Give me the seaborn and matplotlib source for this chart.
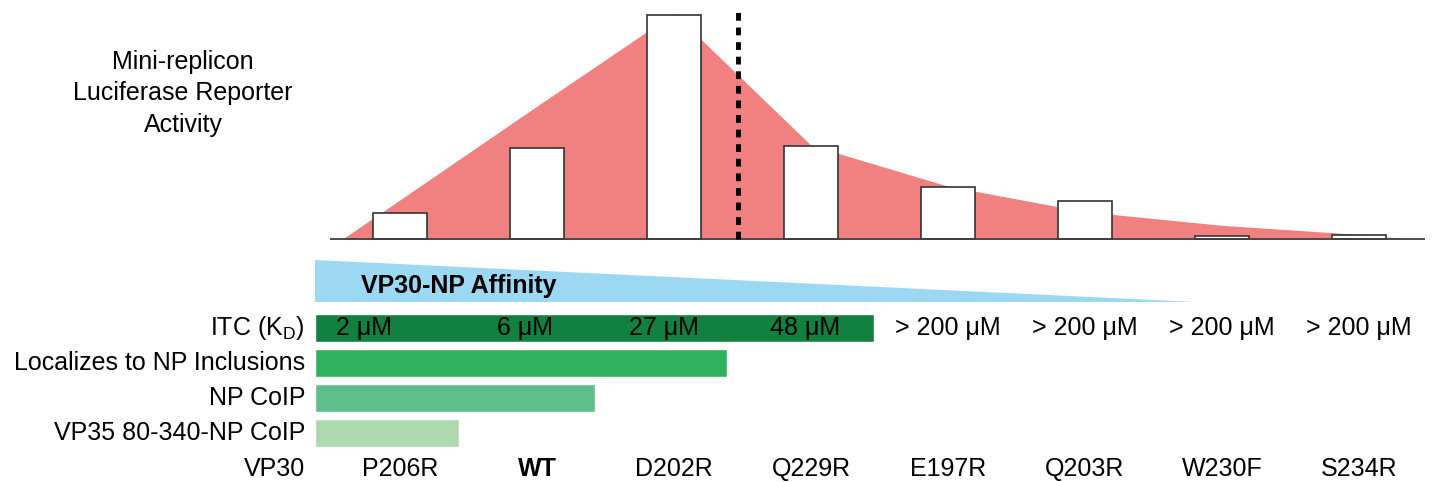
import numpy as np
import pandas as pd
import seaborn as sns
import matplotlib.pyplot as plt
from matplotlib.patches import Polygon

# data
mutants = ["P206R", "WT", "D202R", "Q229R", "E197R", "Q203R", "W230F", "S234R"]
activity = [29, 100, 246, 102, 57, 42, 3, 4]  # % of WT
trend_x = [-0.42, 0, 1, 2, 3, 4, 5, 6, 7, 7.37]
trend_y = [0, 43, 146, 248, 103, 58, 30, 15, 5, 0]
itc_labels = ["2 μM", "6 μM", "27 μM", "48 μM", "> 200 μM", "> 200 μM", "> 200 μM", "> 200 μM"]
itc_dx = [-0.26, -0.09, -0.07, -0.04, 0, 0, 0, 0]
assays = ["ITC (K$_\\mathregular{D}$)", "Localizes to NP Inclusions", "NP CoIP", "VP35 80-340-NP CoIP"]
assay_extent = [4.08, 3.01, 2.04, 1.05]  # in mutant widths, from left edge
assay_colors = ["#12803F", "#2DB25E", "#5FBF8A", "#AED9AF"]

sns.set_theme(style="white")
plt.rcParams["font.family"] = ["Liberation Sans", "DejaVu Sans"]
plt.rcParams["text.color"] = "black"
FS = 18

fig = plt.figure(figsize=(14.32, 4.82), dpi=100)
W, H = 1432, 482
XL = (-400 / 137, (W - 400) / 137)

# top: reporter activity
ax = fig.add_axes([0, 1 - 245 / H, 1, 245 / H])
df = pd.DataFrame({"mutant": mutants, "activity": activity})
ax.fill_between(trend_x, trend_y, 0, color="#F18080", lw=0, zorder=0.5)
sns.barplot(data=df, x="mutant", y="activity", order=mutants, color="white",
            edgecolor="#333333", linewidth=1.2, width=0.4, saturation=1, ax=ax, zorder=2)
ax.hlines(0, -0.51, 7.48, color="#404040", lw=1.3, zorder=3)
ax.vlines(2.47, 0, 250, color="black", lw=3.5, linestyles=[(0, (1.6, 1.4))], zorder=4)
ax.set_xlim(*XL)
ax.set_ylim(-6.6, 262.6)
ax.text(-1.584, 160, "Mini-replicon\nLuciferase Reporter\nActivity", ha="center", va="center",
        fontsize=FS, linespacing=1.4)
ax.axis("off")

# bottom: binding assays
sh = 0.62
bx = fig.add_axes([0, 0, 1, 1 - 245 / H])
da = pd.DataFrame({"assay": assays, "extent": assay_extent})
sns.barplot(data=da, y="assay", x="extent", order=assays, palette=assay_colors, hue="assay",
            legend=False, orient="h", width=0.8, saturation=1, ax=bx)
bx.set_xlim(XL[0] + sh, XL[1] + sh)
bx.set_ylim(4.4, -2.371)
bx.add_patch(Polygon([(0, -1.943), (0, -0.743), ((1195 - 400) / 137 + sh, -0.743)],
                     closed=True, color="#9DD8F3", lw=0, zorder=0))
bx.text((361 - 400) / 137 + sh, -1.19, "VP30-NP Affinity", fontsize=FS, fontweight="bold",
        ha="left", va="center")
for r, lab in enumerate(assays):
    bx.text(-0.073, r, lab, ha="right", va="center", fontsize=FS)
for i, (lab, dx) in enumerate(zip(itc_labels, itc_dx)):
    bx.text(i + sh + dx, 0, lab, ha="center", va="center", fontsize=FS)
bx.text(-0.073, 4.03, "VP30", ha="right", va="center", fontsize=FS)
for i, m in enumerate(mutants):
    bx.text(i + sh, 4.03, m, ha="center", va="center", fontsize=FS,
            fontweight="bold" if m == "WT" else "normal")
bx.axis("off")

fig.savefig("out.png", dpi=100)
